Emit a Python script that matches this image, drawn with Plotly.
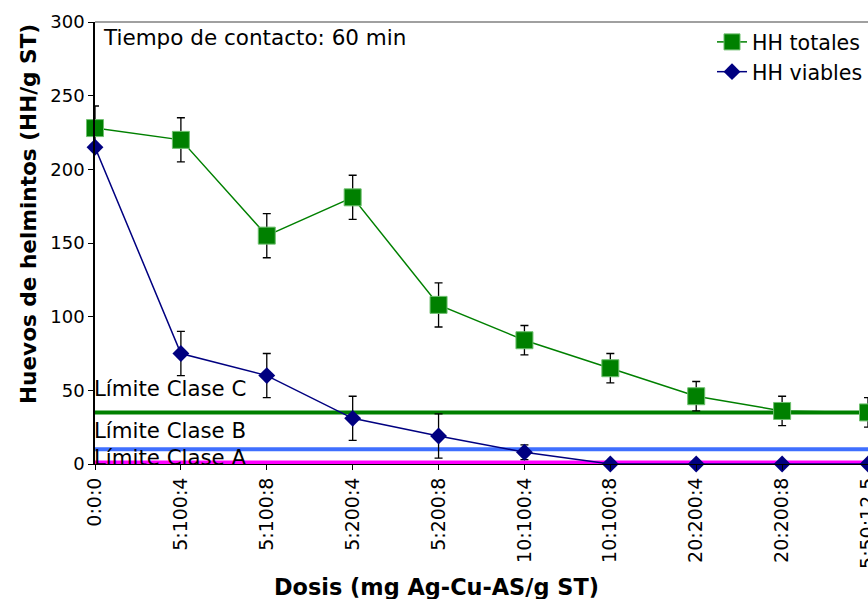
import plotly.graph_objects as go

categories = ["0:0:0", "5:100:4", "5:100:8", "5:200:4", "5:200:8",
              "10:100:4", "10:100:8", "20:200:4", "20:200:8", "5:50:12.5"]
hh_totales = [228, 220, 155, 181, 108, 84, 65, 46, 36, 35]
hh_totales_err = [15, 15, 15, 15, 15, 10, 10, 10, 10, 10]
hh_viables = [215, 75, 60, 31, 19, 8, 0, 0, 0, 0]
hh_viables_err = [0, 15, 15, 15, 15, 5, 0, 0, 0, 0]
limite_c = 35
limite_b = 10
limite_a = 1

FONT = "DejaVu Sans, Verdana, sans-serif"
W, H = 868, 599
L, T, R = 95, 22, 0
B = H - 464

fig = go.Figure()

for val, col in [(limite_c, "#008000"), (limite_b, "#3F6FFF"), (limite_a, "#FF00FF")]:
    fig.add_trace(go.Scatter(x=categories, y=[val] * len(categories), mode="lines",
                             line=dict(color=col, width=4), showlegend=False,
                             cliponaxis=False, hoverinfo="skip"))

fig.add_trace(go.Scatter(
    x=categories, y=hh_totales, name="HH totales", mode="lines+markers",
    line=dict(color="#008000", width=1.5),
    marker=dict(symbol="square", size=17, color="#008000", line=dict(color="#6fbf6f", width=1)),
    error_y=dict(type="data", array=hh_totales_err, color="black", thickness=1.3, width=4),
    cliponaxis=False))
fig.add_trace(go.Scatter(
    x=categories, y=hh_viables, name="HH viables", mode="lines+markers",
    line=dict(color="#000080", width=1.5),
    marker=dict(symbol="diamond", size=13, color="#000080"),
    error_y=dict(type="data", array=hh_viables_err, color="black", thickness=1.3, width=4),
    cliponaxis=False))

pw = W - L - R
ph = H - T - B
def px(x):
    return (x - L) / pw
def py(y):
    return (H - B - y) / ph

annotations = [
    dict(text="Tiempo de contacto: 60 min", xref="paper", yref="paper", x=px(101), y=py(38),
         xanchor="left", yanchor="middle", showarrow=False, font=dict(size=21.5, color="black")),
    dict(text="Límite Clase C", xref="paper", yref="paper", x=px(92), y=py(388),
         xanchor="left", yanchor="middle", showarrow=False, font=dict(size=21.3, color="black")),
    dict(text="Límite Clase B", xref="paper", yref="paper", x=px(92), y=py(430),
         xanchor="left", yanchor="middle", showarrow=False, font=dict(size=21.3, color="black")),
    dict(text="Límite Clase A", xref="paper", yref="paper", x=px(92), y=py(457),
         xanchor="left", yanchor="middle", showarrow=False, font=dict(size=21.3, color="black")),
    dict(text="<b>Huevos de helmintos (HH/g ST)</b>", xref="paper", yref="paper", x=px(28), y=py(214),
         xanchor="center", yanchor="middle", textangle=-90, showarrow=False,
         font=dict(size=21.6, color="black")),
    dict(text="<b>Dosis (mg Ag-Cu-AS/g ST)</b>", xref="paper", yref="paper", x=px(436), y=py(587),
         xanchor="center", yanchor="middle", showarrow=False, font=dict(size=22.4, color="black")),
]

fig.update_layout(
    width=W, height=H,
    margin=dict(l=L, r=R, t=T, b=B, pad=0, autoexpand=False),
    paper_bgcolor="white", plot_bgcolor="white",
    font=dict(family=FONT, color="black"),
    showlegend=True,
    legend=dict(x=px(712), y=1.0, xanchor="left", yanchor="top", bgcolor="rgba(0,0,0,0)",
                font=dict(size=20.6, color="black"), tracegroupgap=0, itemwidth=30),
    annotations=annotations,
    shapes=[dict(type="line", xref="paper", yref="paper", x0=0, x1=1, y0=1, y1=1,
                 line=dict(color="#A0A0A0", width=2), layer="below")],
)

fig.update_xaxes(type="category", range=[0, 9], showgrid=False, zeroline=False,
                 showline=True, linecolor="black", linewidth=1,
                 ticks="outside", ticklen=5, tickcolor="black",
                 tickangle=-90, tickfont=dict(size=19, color="black"),
                 ticklabeloverflow="allow", automargin=False)
fig.update_yaxes(range=[0, 300], dtick=50, showgrid=False, zeroline=False,
                 showline=True, linecolor="black", linewidth=1.5,
                 ticks="outside", ticklen=5, tickcolor="black",
                 tickfont=dict(size=18, color="black"), automargin=False)

fig.write_html(
    "out.html",
    config={"displayModeBar": False},
    post_script=("document.documentElement.style.overflow='hidden';"
                 "document.body.style.overflow='hidden';"
                 "document.body.style.margin='0';"),
)
